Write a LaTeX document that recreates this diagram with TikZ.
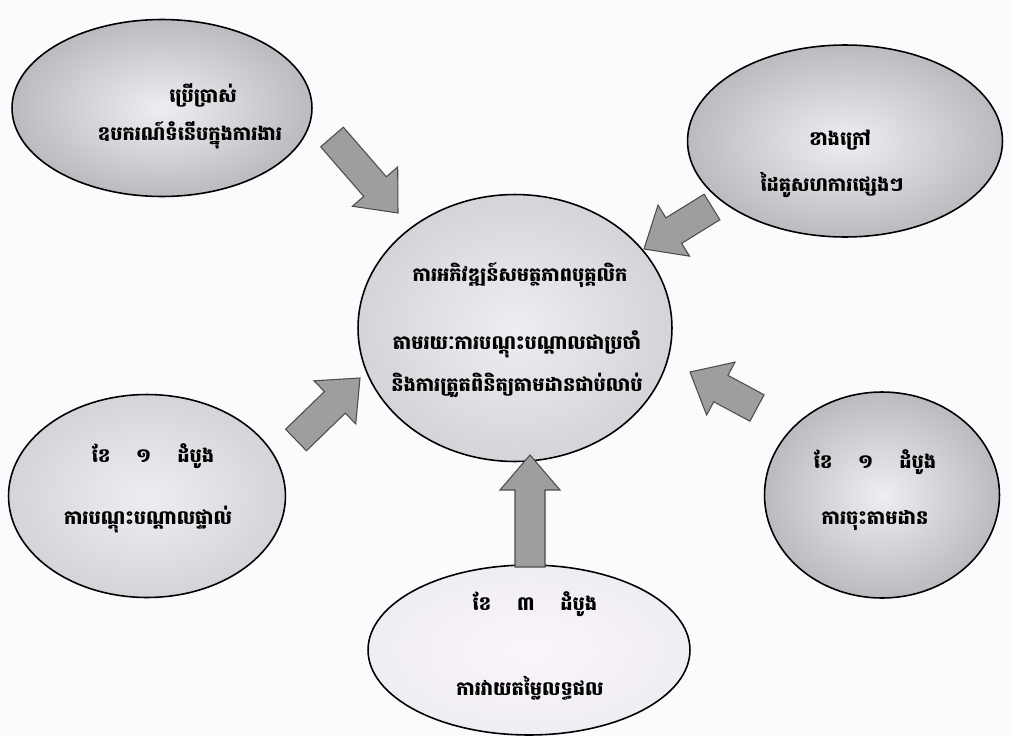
\documentclass[tikz,border=0pt]{standalone}
\usepackage{fontspec}
\newfontfamily\khmer[Script=Khmer]{Battambang}
\usetikzlibrary{shapes.geometric}
\usetikzlibrary{calc}
\definecolor{mpaper}{rgb}{0.99, 0.98, 0.99}
\definecolor{mdark}{rgb}{0.74, 0.73, 0.75}
\definecolor{mmid}{rgb}{0.84, 0.83, 0.85}
\definecolor{mlight}{rgb}{0.94, 0.93, 0.95}
\definecolor{mpale}{rgb}{0.98, 0.96, 0.98}
\definecolor{marrow}{rgb}{0.62, 0.62, 0.63}

\tikzset{
  blob/.style={ellipse, draw=black, line width=0.9pt, inner sep=0pt},
  kmtext/.style={font=\khmer\bfseries\fontsize{11}{13}\selectfont, inner sep=1pt},
  blockarrow/.style={fill=marrow, draw=black!70, line width=0.6pt, line join=miter}
}

% block arrow from #1 to #2
\newcommand{\blockarr}[2]{%
  \coordinate (hb) at ($(#2)!0.7cm!(#1)$);
  \draw [blockarrow] ($(#1)!0.3cm!90:(#2)$) -- ($(hb)!0.3cm!90:(#2)$) -- ($(hb)!0.6cm!90:(#2)$) -- (#2)
    -- ($(hb)!0.6cm!-90:(#2)$) -- ($(hb)!0.3cm!-90:(#2)$) -- ($(#1)!0.3cm!-90:(#2)$) -- cycle;}

\begin{document}
\begin{tikzpicture}[x=0.02cm, y=-0.02cm]
      \fill [mpaper] (0, 0) rectangle (1011, 737);
      \useasboundingbox (0, 0) rectangle (1011, 737);

      % ellipses
      \node [blob, shade, inner color=mlight, outer color=mdark, minimum width=6.0cm, minimum height=3.54cm] (tl) at (162, 108) {};
      \node [blob, shade, inner color=mlight, outer color=mdark, minimum width=6.3cm, minimum height=3.84cm] (tr) at (845, 141) {};
      \node [blob, shade, inner color=mlight, outer color=mmid, minimum width=6.28cm, minimum height=5.34cm] (c) at (515, 328) {};
      \node [blob, shade, inner color=mlight, outer color=mmid, minimum width=5.54cm, minimum height=4.06cm] (l) at (147, 496) {};
      \node [blob, shade, inner color=mlight, outer color=mdark, minimum width=4.7cm, minimum height=4.12cm] (r) at (882, 495) {};
      \node [blob, shade, inner color=mpale, outer color=mlight, minimum width=6.44cm, minimum height=3.4cm] (b) at (529, 650) {};

      % arrows
      \coordinate (tlfoot) at (332, 137);
      \coordinate (tltip) at (398, 213);
      \coordinate (trfoot) at (712, 207);
      \coordinate (trtip) at (644, 249);
      \coordinate (lfoot) at (296, 440);
      \coordinate (ltip) at (360, 378);
      \coordinate (rfoot) at (757, 408);
      \coordinate (rtip) at (690, 372);
      \coordinate (bfoot) at (530, 567);
      \coordinate (btip) at (530, 455);
      \blockarr{tlfoot}{tltip}
      \blockarr{trfoot}{trtip}
      \blockarr{lfoot}{ltip}
      \blockarr{rfoot}{rtip}
      \blockarr{bfoot}{btip}

      % texts
      \node [kmtext] (c1) at (520, 275) {ការអភិវឌ្ឍន៍សមត្ថភាពបុគ្គលិក};
      \node [kmtext] (c2) at (517, 344) {តាមរយៈការបណ្តុះបណ្តាលជាប្រចាំ};
      \node [kmtext] (c3) at (517, 385) {និងការត្រួតពិនិត្យតាមដានជាប់លាប់};
      \node [kmtext] (tl1) at (203, 95) {ប្រើប្រាស់};
      \node [kmtext] (tl2) at (190, 135) {ឧបករណ៍ទំនើបក្នុងការងារ};
      \node [kmtext] (tr1) at (840, 140) {ខាងក្រៅ};
      \node [kmtext] (tr2) at (832, 185) {ដៃគូសហការផ្សេងៗ};
      \node [kmtext] (l1) at (153, 456) {ខែ \quad ១ \quad ដំបូង};
      \node [kmtext] (l2) at (148, 520) {ការបណ្តុះបណ្តាលផ្ទាល់};
      \node [kmtext] (r1) at (875, 462) {ខែ \quad ១ \quad ដំបូង};
      \node [kmtext] (r2) at (875, 520) {ការចុះតាមដាន};
      \node [kmtext] (b1) at (535, 604) {ខែ \quad ៣ \quad ដំបូង};
      \node [kmtext] (b2) at (530, 688) {ការវាយតម្លៃលទ្ធផល};
\end{tikzpicture}
\end{document}
